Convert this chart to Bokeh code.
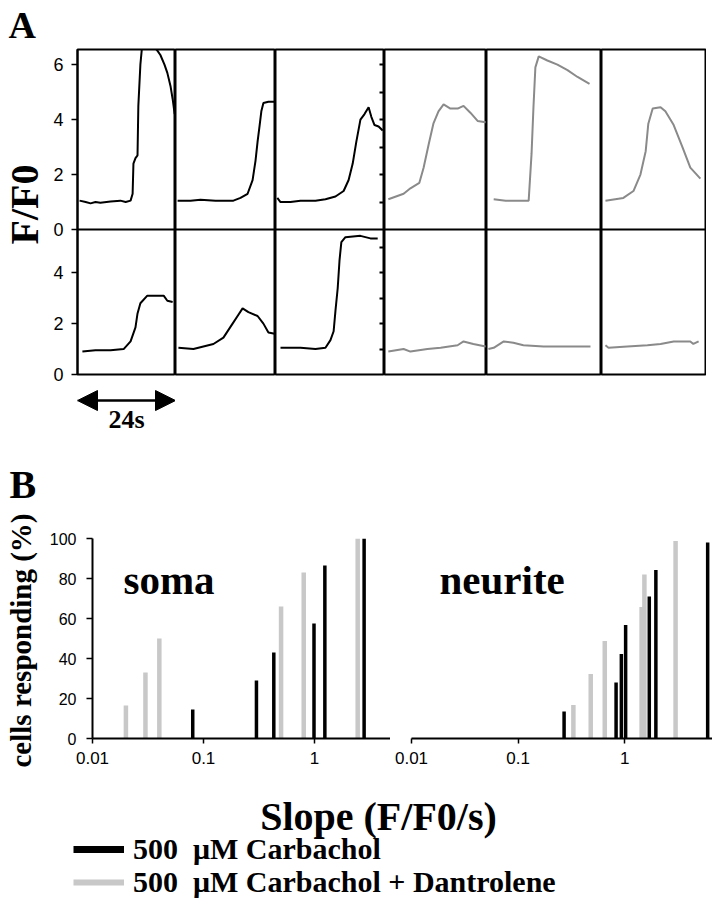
import math
from bokeh.plotting import figure
from bokeh.layouts import row, column
from bokeh.models import (Range1d, FixedTicker, NumeralTickFormatter, Label, Arrow,
                          NormalHead, Legend, LegendItem, LinearAxis, Span)
from bokeh.embed import file_html
from bokeh.resources import INLINE

SERIF = "Liberation Serif"
SANS = "Liberation Sans"

# ---------------- Panel A data (time in s within each 24 s window, value F/F0) -------------
top_t = [
    [0.5, 2.0, 3.2, 4.4, 5.6, 8.1, 10.5, 11.8, 13.0, 13.5, 13.7, 14.2, 14.7, 14.9, 15.4, 15.9, 17.9, 19.6, 20.3, 21.3, 22.0, 22.8, 23.3, 23.8],
    [0.5, 3.6, 6.0, 9.6, 13.9, 15.6, 17.3, 18.5, 19.2, 19.7, 20.2, 20.6, 21.1, 22.3, 23.8],
    [0.4, 1.1, 3.3, 5.5, 8.8, 11.0, 13.2, 15.0, 16.1, 17.0, 17.8, 18.7, 19.6, 20.5, 21.1, 21.8, 22.7, 23.6],
    [0.9, 4.5, 6.1, 8.2, 9.2, 10.4, 11.5, 12.7, 13.9, 15.5, 17.2, 18.6, 20.2, 21.9, 23.8],
    [1.5, 4.0, 6.1, 8.8, 9.4, 9.8, 10.2, 10.9, 12.7, 14.8, 16.9, 19.0, 21.5],
    [0.9, 5.0, 7.3, 8.9, 10.1, 10.7, 11.7, 13.5, 14.6, 16.5, 18.5, 20.3, 22.6],
]
top_v = [
    [1.05, 1.0, 0.95, 1.0, 0.97, 1.02, 1.05, 1.0, 1.05, 1.3, 2.4, 2.6, 2.7, 4.5, 6.0, 6.8, 6.8, 6.5, 6.35, 6.0, 5.7, 5.2, 4.75, 4.2],
    [1.05, 1.05, 1.08, 1.05, 1.05, 1.15, 1.3, 1.8, 2.5, 3.2, 3.8, 4.3, 4.6, 4.65, 4.65],
    [1.15, 1.0, 1.0, 1.05, 1.05, 1.1, 1.2, 1.4, 1.8, 2.4, 3.2, 4.0, 4.2, 4.45, 4.1, 3.8, 3.75, 3.6],
    [1.1, 1.3, 1.5, 1.7, 2.25, 3.1, 3.85, 4.3, 4.55, 4.4, 4.4, 4.5, 4.25, 3.95, 3.9],
    [1.1, 1.05, 1.05, 1.05, 2.75, 4.45, 5.9, 6.3, 6.15, 6.0, 5.8, 5.55, 5.3],
    [1.05, 1.15, 1.4, 2.0, 2.85, 3.85, 4.4, 4.45, 4.3, 3.8, 3.0, 2.25, 1.85],
]
bot_t = [
    [1.2, 4.4, 8.1, 11.3, 13.0, 14.2, 14.7, 15.4, 17.1, 21.1, 22.0, 23.3],
    [0.7, 4.3, 9.1, 11.5, 13.7, 14.9, 16.1, 17.5, 19.7, 21.1, 22.3, 23.8],
    [1.1, 5.5, 8.8, 11.0, 12.1, 12.8, 13.2, 13.7, 14.1, 14.5, 15.4, 18.7, 20.9, 22.5],
    [0.9, 4.5, 6.1, 10.1, 13.2, 17.2, 18.6, 20.9, 23.8],
    [0.4, 1.5, 3.6, 5.6, 7.7, 11.9, 15.4, 21.7],
    [0.9, 1.6, 5.9, 10.5, 13.5, 16.5, 20.3, 21.0, 22.2],
]
bot_v = [
    [0.9, 0.95, 0.95, 1.0, 1.3, 1.85, 2.4, 2.8, 3.1, 3.1, 2.9, 2.85],
    [1.05, 1.0, 1.2, 1.45, 2.0, 2.3, 2.6, 2.45, 2.3, 2.0, 1.65, 1.6],
    [1.05, 1.05, 1.0, 1.05, 1.35, 1.7, 2.5, 3.4, 4.5, 5.2, 5.4, 5.45, 5.35, 5.35],
    [0.9, 1.0, 0.9, 1.0, 1.05, 1.15, 1.3, 1.2, 1.1],
    [1.0, 1.05, 1.3, 1.25, 1.15, 1.1, 1.1, 1.1],
    [1.15, 1.05, 1.1, 1.15, 1.2, 1.3, 1.3, 1.2, 1.3],
]
trace_group = ["carbachol", "carbachol", "carbachol", "dantrolene", "dantrolene", "dantrolene"]
top_yticks = [0, 2, 4, 6]
bot_yticks = [0, 2, 4]
top_ymax = 6.55
bot_ymax = 5.7
window_s = [0, 24]
scale_bar_s = [0, 24]
scale_bar_label = "24s"

# ---------------- Panel B data (slope F/F0/s, cumulative % cells responding) -------------
soma_carb_x = [0.08, 0.30, 0.43, 0.99, 1.24, 2.8]
soma_carb_y = [14.5, 29, 43, 57.5, 86.5, 100]
soma_dant_x = [0.020, 0.030, 0.040, 0.50, 0.80, 2.45]
soma_dant_y = [16.5, 33, 50, 66, 83, 100]
neur_carb_x = [0.27, 0.83, 0.93, 1.02, 1.70, 1.96, 6.0]
neur_carb_y = [13.5, 28, 42.3, 56.7, 71, 84.3, 98]
neur_dant_x = [0.33, 0.48, 0.65, 1.44, 1.53, 3.0]
neur_dant_y = [16.7, 32.3, 48.7, 65.7, 82, 98.7]
slope_ticks = [0.01, 0.1, 1]
pct_ticks = [0, 20, 40, 60, 80, 100]
soma_xmax = 4.84
neur_xmax = 6.66
legend_labels = ["500  \u03bcM Carbachol", "500  \u03bcM Carbachol + Dantrolene"]

BLACK = "#000000"
GRAY_TRACE = "#8a8a8a"
GRAY_BAR = "#c8c8c8"
COLORS = {"carbachol": BLACK, "dantrolene": GRAY_TRACE}


def mkfig(w, h, xr, yr, **kw):
    p = figure(width=w, height=h, x_range=xr, y_range=yr, toolbar_location=None,
               output_backend="svg", title=None, min_border=0, **kw)
    p.grid.visible = False
    p.outline_line_color = None
    p.background_fill_color = "white"
    p.border_fill_color = "white"
    return p


def style_axis(ax, size="18px"):
    ax.major_tick_out = 6
    ax.major_tick_in = 0
    ax.minor_tick_out = 0
    ax.minor_tick_in = 0
    ax.minor_tick_line_color = None
    ax.major_label_text_font = SANS
    ax.major_label_text_font_size = size
    ax.major_label_text_color = BLACK
    ax.axis_line_width = 2
    ax.major_tick_line_width = 1.5
    ax.axis_line_color = BLACK
    ax.major_tick_line_color = BLACK


# ---------------- Panel A: one figure per column, two stacked rows with own y scales -------
col_w = [98, 100, 109, 102, 115, 105]
LAB_W = 50
AX_W = 27
TOP_H = 180
BOT_H = 145
PA_TOP = 49
PA_BOT = 12
PA_H = PA_TOP + TOP_H + BOT_H + PA_BOT

# top-row scale occupies the upper TOP_H px; bottom-row scale the lower BOT_H px
top_lo = -top_ymax * BOT_H / TOP_H
bot_hi = bot_ymax * (TOP_H + BOT_H) / BOT_H


def bottom_in_top_units(b):
    return top_lo + (b / bot_hi) * (top_ymax - top_lo)


def ticks_only_axis(ticks, **kw):
    return LinearAxis(ticker=FixedTicker(ticks=ticks, minor_ticks=[]), major_tick_in=5,
                      major_tick_out=0, major_label_text_font_size="1px",
                      major_label_text_color=None, major_label_standoff=0,
                      axis_line_color=None, minor_tick_line_color=None,
                      major_tick_line_width=2, **kw)


col_figs = []
for i in range(6):
    first = i == 0
    w = col_w[i] + (AX_W if first else 0)
    p = mkfig(w, PA_H, Range1d(*window_s), Range1d(top_lo, top_ymax),
              x_axis_location=None, y_axis_location="left" if first else None)
    p.extra_y_ranges = {"bottom": Range1d(0, bot_hi)}
    p.min_border_top = PA_TOP
    p.min_border_bottom = PA_BOT
    p.outline_line_color = BLACK
    p.outline_line_width = 2
    if first:
        p.min_border_left = AX_W
        ax = p.yaxis[0]
        bt = [bottom_in_top_units(b) for b in bot_yticks]
        ax.ticker = FixedTicker(ticks=top_yticks + bt, minor_ticks=[])
        overrides = {t: str(t) for t in top_yticks}
        overrides.update({pos: str(b) for pos, b in zip(bt, bot_yticks)})
        ax.major_label_overrides = overrides
        style_axis(ax)
        ax.major_label_standoff = 8
    p.add_layout(Span(location=0, dimension="width", line_color=BLACK, line_width=2))
    color = COLORS[trace_group[i]]
    p.line(top_t[i], top_v[i], line_color=color, line_width=2)
    p.line(bot_t[i], bot_v[i], line_color=color, line_width=2, y_range_name="bottom")
    if i == 2:
        p.add_layout(ticks_only_axis(list(range(1, int(top_ymax) + 1))), "right")
        p.add_layout(ticks_only_axis(list(range(1, int(bot_ymax) + 1)), y_range_name="bottom"), "right")
    col_figs.append(p)

lab = mkfig(LAB_W, PA_H, Range1d(0, 1), Range1d(0, 1),
            x_axis_location=None, y_axis_location=None)
lab.add_layout(Label(x=8, y=PA_H - 24, x_units="screen", y_units="screen",
                     text="A", text_font=SERIF, text_font_style="bold", text_font_size="38px",
                     text_color=BLACK, text_baseline="middle"))
lab.add_layout(Label(x=23.5, y=PA_H - 204, x_units="screen", y_units="screen", angle=math.pi / 2,
                     text="F/F0", text_font=SERIF, text_font_style="bold", text_font_size="40px",
                     text_color=BLACK, text_align="center", text_baseline="middle"))

panelA = row(lab, row(*col_figs))

# scale bar
ARW_LEFT = LAB_W + AX_W
arw = mkfig(ARW_LEFT + col_w[0], 54, Range1d(*window_s), Range1d(0, 1),
            x_axis_location=None, y_axis_location=None)
arw.min_border_left = ARW_LEFT
arw.add_layout(Arrow(x_start=scale_bar_s[0], x_end=scale_bar_s[1], y_start=0.74, y_end=0.74,
                     line_width=2.5, line_color=BLACK,
                     start=NormalHead(size=20, fill_color=BLACK, line_color=BLACK),
                     end=NormalHead(size=20, fill_color=BLACK, line_color=BLACK)))
arw.add_layout(Label(x=(scale_bar_s[0] + scale_bar_s[1]) / 2, y=0.38, text=scale_bar_label,
                     text_font=SERIF, text_font_style="bold", text_font_size="26px",
                     text_color=BLACK, text_align="center", text_baseline="middle"))

# ---------------- Panel B ----------------
B_TOP = 98
B_FRAME = 200
B_BOT = 40
B_H = B_TOP + B_FRAME + B_BOT
LEFTB_W = 40
SOMA_LEFT = 52
SOMA_W = 298
NEUR_LEFT = 21
NEUR_W = 301

leftB = mkfig(LEFTB_W, B_H, Range1d(0, 1), Range1d(0, 1),
              x_axis_location=None, y_axis_location=None)
leftB.add_layout(Label(x=9, y=B_H - 44, x_units="screen", y_units="screen", text="B",
                       text_font=SERIF, text_font_style="bold", text_font_size="40px",
                       text_color=BLACK, text_baseline="middle"))
leftB.add_layout(Label(x=20, y=B_BOT + B_FRAME / 2 - 2, x_units="screen", y_units="screen",
                       angle=math.pi / 2, text="cells responding (%)",
                       text_font=SERIF, text_font_style="bold", text_font_size="29px",
                       text_color=BLACK, text_align="center", text_baseline="middle"))


def bar_fig(w, left, xmax, carb_x, carb_y, dant_x, dant_y, with_y):
    p = mkfig(w + left, B_H, Range1d(slope_ticks[0], xmax), Range1d(0, 100),
              x_axis_type="log", y_axis_location="left" if with_y else None)
    p.min_border_left = left
    p.min_border_top = B_TOP
    p.min_border_bottom = B_BOT
    xa = p.xaxis[0]
    xa.ticker = FixedTicker(ticks=slope_ticks, minor_ticks=[])
    xa.formatter = NumeralTickFormatter(format="0.[00]")
    style_axis(xa, "17px")
    xa.major_tick_out = 5
    xa.major_label_standoff = 8
    if with_y:
        ya = p.yaxis[0]
        ya.ticker = FixedTicker(ticks=pct_ticks, minor_ticks=[])
        style_axis(ya, "16px")
        ya.major_label_standoff = 10
    p.segment(x0=dant_x, y0=[0] * len(dant_x), x1=dant_x, y1=dant_y,
              line_color=GRAY_BAR, line_width=4.5)
    p.segment(x0=carb_x, y0=[0] * len(carb_x), x1=carb_x, y1=carb_y,
              line_color=BLACK, line_width=3.5)
    return p


soma = bar_fig(SOMA_W, SOMA_LEFT, soma_xmax, soma_carb_x, soma_carb_y, soma_dant_x, soma_dant_y, True)
neur = bar_fig(NEUR_W, NEUR_LEFT, neur_xmax, neur_carb_x, neur_carb_y, neur_dant_x, neur_dant_y, False)

soma.add_layout(Label(x=31, y=136, x_units="screen", y_units="screen", text="soma",
                      text_font=SERIF, text_font_style="bold", text_font_size="41px",
                      text_color=BLACK))
neur.add_layout(Label(x=28, y=136, x_units="screen", y_units="screen", text="neurite",
                      text_font=SERIF, text_font_style="bold", text_font_size="41px",
                      text_color=BLACK))

panelB = row(leftB, row(soma, neur))

# caption: axis title + legend
CAP_W = LEFTB_W + SOMA_LEFT + SOMA_W + NEUR_LEFT + NEUR_W
CAP_H = 122
cap = mkfig(CAP_W, CAP_H, Range1d(0, 1), Range1d(0, 1),
            x_axis_location=None, y_axis_location=None)
cap.add_layout(Label(x=378, y=84, x_units="screen", y_units="screen", text="Slope (F/F0/s)",
                     text_font=SERIF, text_font_style="bold", text_font_size="40px",
                     text_color=BLACK, text_align="center", text_baseline="middle"))
# legend swatches: hidden single-point renderers (outside the visible range)
r1 = cap.line(x=[-1], y=[-1], line_color=BLACK, line_width=7)
r2 = cap.line(x=[-1], y=[-1], line_color=GRAY_BAR, line_width=6)
for rend, lbl, ly in ((r1, legend_labels[0], 34), (r2, legend_labels[1], 1)):
    lg = Legend(items=[LegendItem(label=lbl, renderers=[rend])],
                location=(73, ly), orientation="vertical", glyph_width=51, glyph_height=20,
                label_standoff=9, spacing=0, padding=0, margin=0, border_line_color=None,
                background_fill_alpha=0, label_text_font=SERIF, label_text_font_size="30px",
                label_text_font_style="bold", label_text_color=BLACK, label_height=28)
    cap.add_layout(lg)

page = column(panelA, row(arw), panelB, row(cap))
open("out.html", "w").write(file_html(page, INLINE))
